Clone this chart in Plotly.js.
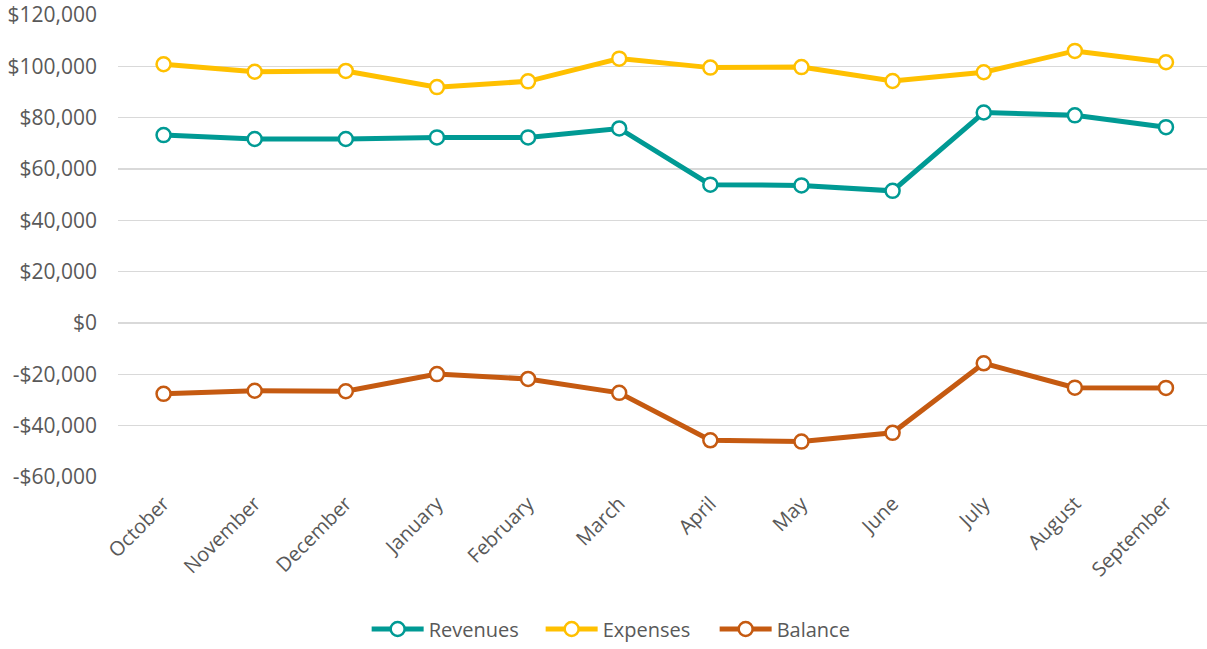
<!DOCTYPE html>
<html>
<head>
<meta charset="utf-8">
<script src="https://cdn.plot.ly/plotly-3.0.1.min.js"></script>
<style>html,body{margin:0;padding:0;background:#fff;}#chart{width:1207px;height:649px;}</style>
</head>
<body>
<div id="chart"></div>
<script>
const months = ["October","November","December","January","February","March","April","May","June","July","August","September"];
const revenues = [73200, 71700, 71700, 72300, 72300, 75800, 53900, 53600, 51500, 82000, 80900, 76300];
const expenses = [100800, 97900, 98200, 91900, 94150, 103000, 99500, 99700, 94300, 97700, 106000, 101600];
const balance = [-27600, -26400, -26600, -19900, -21800, -27200, -45700, -46200, -42800, -15700, -25200, -25300];
const yTicks = [-60000, -40000, -20000, 0, 20000, 40000, 60000, 80000, 100000, 120000];
const yTickText = ["-$60,000","-$40,000","-$20,000","$0","$20,000","$40,000","$60,000","$80,000","$100,000","$120,000"];

function series(name, y, color) {
  return {
    type: "scatter", mode: "lines+markers", name: name, x: months, y: y,
    line: {color: color, width: 5},
    marker: {symbol: "circle", size: 14, color: "#ffffff", line: {color: color, width: 2.5}},
    cliponaxis: false
  };
}
const data = [
  series("Revenues", revenues, "#009A94"),
  series("Expenses", expenses, "#FFC000"),
  series("Balance", balance, "#C55A11")
];
const font = "Open Sans, sans-serif";
const layout = {
  width: 1207, height: 649,
  margin: {l: 118, r: 0, t: 15, b: 172, autoexpand: false},
  paper_bgcolor: "#fff", plot_bgcolor: "#fff",
  showlegend: true,
  legend: {orientation: "h", x: 0.468, xanchor: "center", y: -0.329, yanchor: "middle",
           font: {family: font, size: 20, color: "#595959"}, itemwidth: 52,
           entrywidth: 107, entrywidthmode: "pixels"},
  xaxis: {
    type: "category", range: [-0.5, 11.45], showgrid: false, zeroline: false, showline: false,
    automargin: false, ticklabelstandoff: 10,
    tickangle: -45, ticks: "", tickfont: {family: font, size: 20, color: "#595959"}
  },
  yaxis: {
    range: [-60000, 120000], tickvals: yTicks, ticktext: yTickText, automargin: false,
    showgrid: true, gridcolor: "#D9D9D9", gridwidth: 1.5, zeroline: false, showline: false,
    ticks: "", ticklabelstandoff: 20, tickfont: {family: font, size: 21, color: "#595959"}
  }
};
Plotly.newPlot("chart", data, layout, {displayModeBar: false, staticPlot: true});
</script>
</body>
</html>
